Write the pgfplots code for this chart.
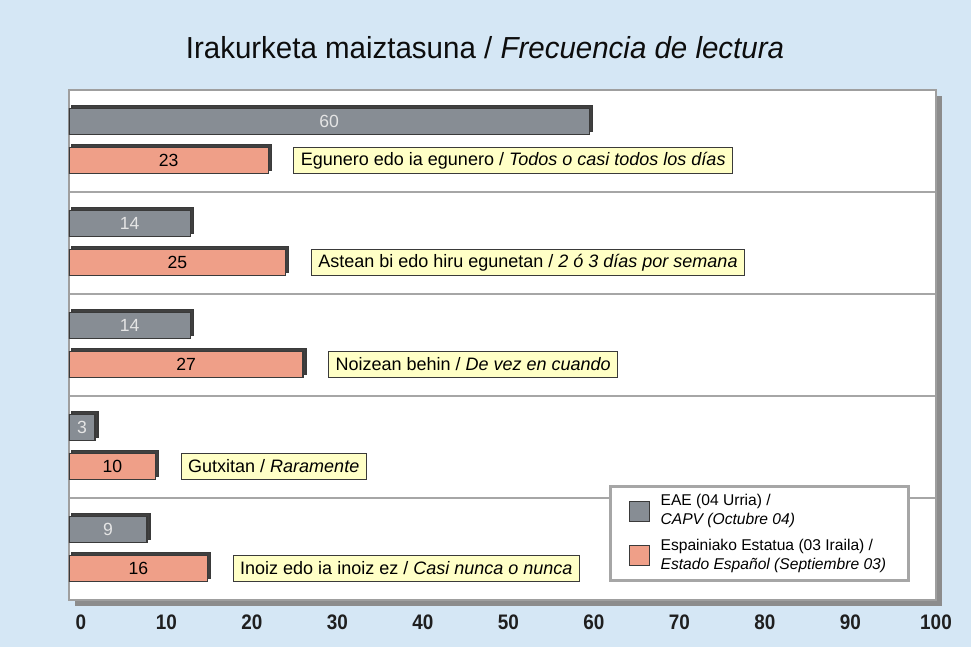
\documentclass[border=0pt]{standalone}
\usepackage{pgfplots}
\pgfplotsset{compat=1.18}
\usepackage{pgfplotstable}
\usepackage{fontspec}
\setmainfont{Liberation Sans}
\newfontfamily\narrowfont[FakeStretch=0.9]{Liberation Sans}
\newfontfamily\titlefont[FakeStretch=0.97]{Liberation Sans}
\usetikzlibrary{shadows}
\definecolor{bgblue}{HTML}{D5E7F5}
\definecolor{barGray}{HTML}{878D94}
\definecolor{barSalmon}{HTML}{EF9F88}
\definecolor{lblYellow}{HTML}{FFFFC6}
\definecolor{edgeDark}{HTML}{3A3A3A}

\pgfplotstableread[col sep=comma]{
g,eae,esp,label
0,60,23,{Egunero edo ia egunero / \textit{Todos o casi todos los días}}
1,14,25,{Astean bi edo hiru egunetan / \textit{2 ó 3 días por semana}}
2,14,27,{Noizean behin / \textit{De vez en cuando}}
3,3,10,{Gutxitan / \textit{Raramente}}
4,9,16,{Inoiz edo ia inoiz ez / \textit{Casi nunca o nunca}}
}\datatable

\begin{document}
\begin{tikzpicture}
\path[use as bounding box, fill=bgblue] (-34.5pt,-23.5pt) rectangle (451pt,300pt);
\begin{axis}[
  at={(0pt,0pt)}, anchor=south west,
  scale only axis, width=433.5pt, height=255pt,
  xmin=0, xmax=100, ymin=-0.5, ymax=4.5, y dir=reverse,
  xtick={0,10,...,100},
  ytick={0.5,1.5,2.5,3.5}, yticklabels={},
  major tick length=0pt,
  ymajorgrids, grid style={draw=gray!70, line width=1pt},
  axis line style={draw=gray!75, line width=1.2pt},
  axis background/.style={fill=white, drop shadow={shadow xshift=3pt, shadow yshift=-3pt, fill=black!45, opacity=1}},
  /pgf/number format/assume math mode=true,
  xticklabel style={font=\fontsize{10.5}{12}\narrowfont\bfseries, text=black!88, yshift=-4pt, xshift={6pt-0.6pt*\ticknum}},
  legend image code/.code={\draw[#1] (1.5pt,-5pt) rectangle (11.5pt,5pt);},
  legend style={at={(0.623,0.2255)}, anchor=north west, draw=gray!70, line width=1.5pt, fill=white,
    font=\fontsize{7.8}{9.5}\selectfont, cells={anchor=west, align=left}, inner xsep=9pt, inner ysep=2pt, row sep=1.5pt,
    /tikz/every odd column/.append style={column sep=3.5pt}},
  legend cell align=left,
]
\addplot[xbar, bar width=13pt, bar shift=0pt, fill=barGray, draw=edgeDark, line width=0.6pt, forget plot,
  drop shadow={shadow xshift=1.5pt, shadow yshift=1.5pt, fill=black!75, opacity=1}]
  table[x=eae, y expr=\thisrow{g}-0.19] \datatable;
\addplot[xbar, bar width=13pt, bar shift=0pt, fill=barSalmon, draw=edgeDark, line width=0.6pt, forget plot,
  drop shadow={shadow xshift=1.5pt, shadow yshift=1.5pt, fill=black!75, opacity=1}]
  table[x=esp, y expr=\thisrow{g}+0.19] \datatable;
% value labels
\addplot[only marks, mark=*, mark size=0pt, mark options={draw=none, fill=none}, forget plot,
  nodes near coords, point meta=\thisrow{eae},
  every node near coord/.append style={anchor=center, font=\fontsize{8.8}{10}\selectfont, text=black!10}]
  table[x expr=\thisrow{eae}/2, y expr=\thisrow{g}-0.19] \datatable;
\addplot[only marks, mark=*, mark size=0pt, mark options={draw=none, fill=none}, forget plot,
  nodes near coords, point meta=\thisrow{esp},
  every node near coord/.append style={anchor=center, font=\fontsize{8.8}{10}\selectfont, text=black}]
  table[x expr=\thisrow{esp}/2, y expr=\thisrow{g}+0.19] \datatable;
% category boxes
\addplot[only marks, mark=*, mark size=0pt, mark options={draw=none, fill=none}, forget plot,
  nodes near coords, point meta=explicit symbolic,
  every node near coord/.append style={anchor=west, xshift=12.5pt, font=\fontsize{9}{10}\selectfont, text=black,
    fill=lblYellow, draw=edgeDark, line width=0.5pt, minimum height=13pt, inner xsep=3.5pt, inner ysep=1pt}]
  table[x=esp, y expr=\thisrow{g}+0.19, meta=label] \datatable;
\addlegendimage{fill=barGray, draw=edgeDark, line width=0.5pt}
\addlegendentry{EAE (04 Urria) /\\\textit{CAPV (Octubre 04)}}
\addlegendimage{fill=barSalmon, draw=edgeDark, line width=0.5pt}
\addlegendentry{Espainiako Estatua (03 Iraila) /\\\textit{Estado Español (Septiembre 03)}}
\end{axis}
\node[font=\fontsize{15.2}{17}\titlefont, text=black!95] at (208pt,276pt) {Irakurketa maiztasuna / \textit{Frecuencia de lectura}};
\end{tikzpicture}
\end{document}
